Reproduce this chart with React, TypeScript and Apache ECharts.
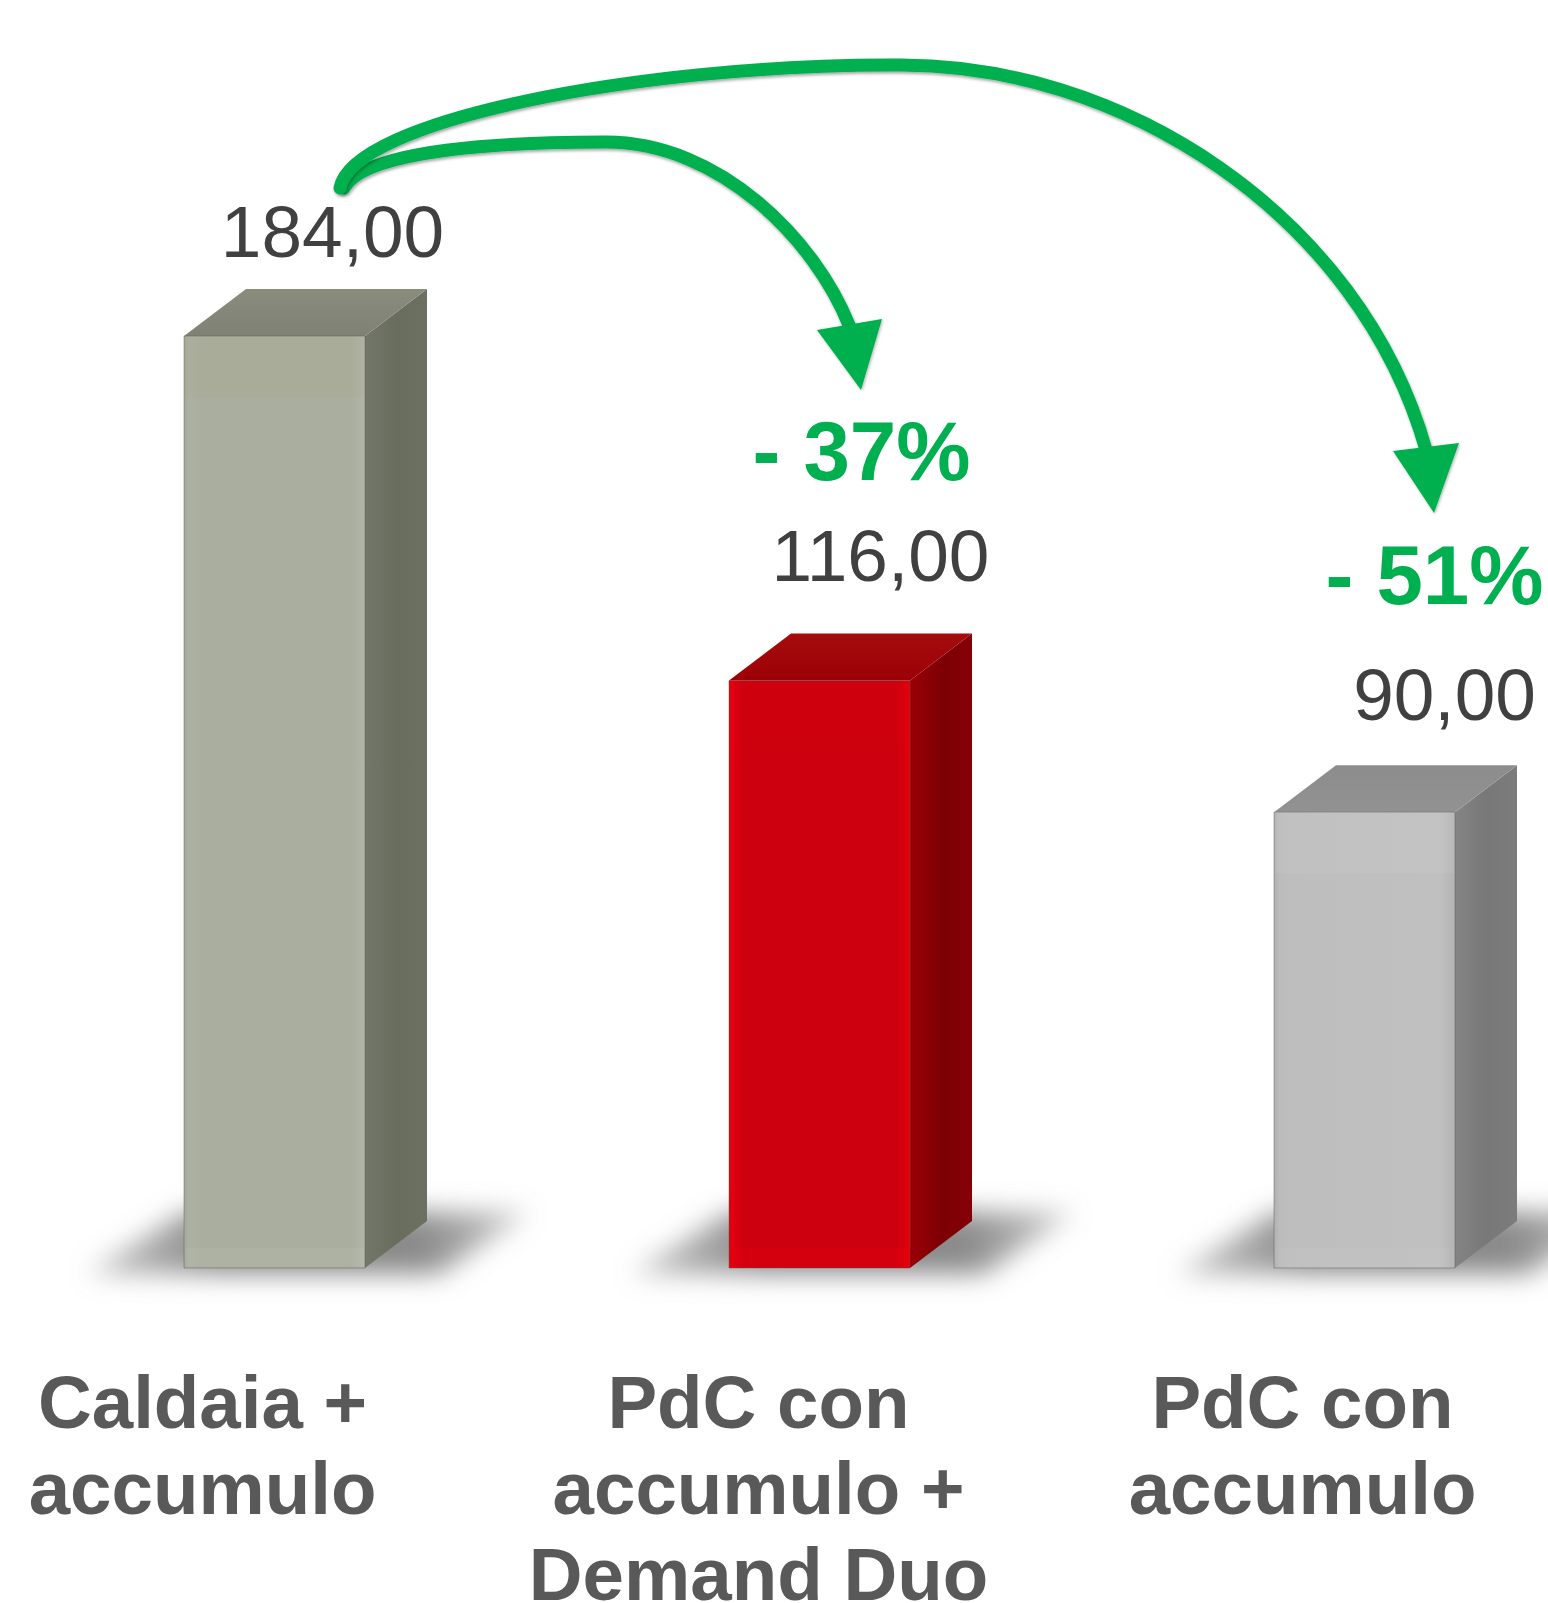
import React, { useEffect, useRef } from "react";
import * as echarts from "echarts";

const categories = ["Caldaia +\naccumulo", "PdC con\naccumulo +\nDemand Duo", "PdC con\naccumulo"];
const values = [184, 116, 90];
const valueLabels = ["184,00", "116,00", "90,00"];
const deltaLabels = ["", "- 37%", "- 51%"];

const categoryShift = [144, 122, 124];
const valueOffsets = [[58, -68], [61, -88], [80, -81]];
const deltaOffsets = [[0, 0], [42, -187], [70, -195]];
const frontStops = [0, 0.03, 0.08, 0.92, 0.97, 1];
const frontFills = [
  ["#a4a99b", "#acb1a3", "#a9ae9f", "#a9ae9f", "#aeb3a5", "#b2b6a8"],
  ["#e2000f", "#dd0010", "#cc000e", "#cc000e", "#d8000c", "#e4000c"],
  ["#b0b0b0", "#bcbcbc", "#bebebe", "#c0c0c0", "#b8b8b8", "#b4b4b4"],
];
const sideFills = [
  ["#73766a", "#696d5e", "#6c7061"],
  ["#9a0006", "#7c0005", "#850006"],
  ["#848484", "#787878", "#7c7c7c"],
];
const topFills = [["#8a8c7e", "#7e8174"], ["#a50c0c", "#9c0007"], ["#8c8c8c", "#929292"]];
const topBands = ["rgba(175,165,125,0.14)", "rgba(230,0,20,0.12)", "rgba(255,255,255,0.06)"];
const baseBands = ["rgba(255,255,255,0.05)", "rgba(240,0,10,0.25)", "rgba(255,255,255,0.04)"];
const BAR_W = 181;
const DX = 62;
const DY = 47;

const shadowSvg =
  `<svg xmlns="http://www.w3.org/2000/svg" width="600" height="160"><defs>` +
  `<linearGradient id="g" x1="0" x2="1" y1="0" y2="0"><stop offset="0" stop-color="#8a8a8a" stop-opacity="0.45"/><stop offset="0.3" stop-color="#8a8a8a"/><stop offset="0.75" stop-color="#8a8a8a"/><stop offset="1" stop-color="#8a8a8a" stop-opacity="0.4"/></linearGradient>` +
  `<filter id="b" x="-20%" y="-60%" width="140%" height="220%"><feGaussianBlur stdDeviation="13"/></filter></defs>` +
  `<polygon points="52,106 405,106 495,44 150,44" fill="url(#g)" filter="url(#b)"/></svg>`;
const shadowUri = "data:image/svg+xml," + encodeURIComponent(shadowSvg);

const innerD = "M344 188C360 158 450 142 606 142C720 142 815 240 849 325";
const outerD = "M340 188C352 120 640 65 890 65C1120 60 1360 215 1426 450";
echarts.graphic.registerShape("arcInner", echarts.graphic.extendPath(innerD, {}));
echarts.graphic.registerShape("arcOuter", echarts.graphic.extendPath(outerD, {}));

const GREEN = "#00b050";
const arcStyle = {
  fill: "none",
  stroke: GREEN,
  lineWidth: 13,
  lineCap: "round",
  shadowBlur: 3,
  shadowColor: "rgba(0,0,0,0.35)",
  shadowOffsetX: 1,
  shadowOffsetY: 2,
};
const headStyle = {
  fill: GREEN,
  shadowBlur: 3,
  shadowColor: "rgba(0,0,0,0.3)",
  shadowOffsetX: 1,
  shadowOffsetY: 1,
};

function grad(x2: number, y2: number, cols: string[], stops?: number[]) {
  return new echarts.graphic.LinearGradient(
    0, 0, x2, y2,
    cols.map((c, i) => ({ offset: stops ? stops[i] : i / (cols.length - 1), color: c }))
  );
}

function renderBar(params: any, api: any) {
  const i = api.value(0);
  const top = api.coord([i, api.value(1)]);
  const base = api.coord([i, 0]);
  const x0 = top[0] - BAR_W / 2;
  const x1 = top[0] + BAR_W / 2;
  const yT = top[1];
  const yB = base[1];
  const children: any[] = [
    {
      type: "image",
      style: { image: shadowUri, x: top[0] - 240, y: yB - 100, width: 600, height: 160 },
    },
    {
      type: "polygon",
      shape: { points: [[x1, yT], [x1 + DX, yT - DY], [x1 + DX, yB - DY], [x1, yB]] },
      style: { fill: grad(1, 0, sideFills[i]) },
    },
    {
      type: "polygon",
      shape: { points: [[x0, yT], [x0 + DX, yT - DY], [x1 + DX, yT - DY], [x1, yT]] },
      style: { fill: grad(0, 1, topFills[i]) },
    },
    {
      type: "rect",
      shape: { x: x0, y: yT, width: BAR_W, height: yB - yT },
      style: { fill: grad(1, 0, frontFills[i], frontStops), stroke: "rgba(90,90,80,0.45)", lineWidth: 1 },
    },
    {
      type: "rect",
      shape: { x: x0 + 1, y: yT + 1, width: BAR_W - 2, height: 60 },
      style: { fill: topBands[i] },
    },
    {
      type: "rect",
      shape: { x: x0 + 1, y: yB - 20, width: BAR_W - 2, height: 19 },
      style: { fill: baseBands[i] },
    },
    {
      type: "text",
      style: {
        text: valueLabels[i],
        x: top[0] + valueOffsets[i][0],
        y: yT + valueOffsets[i][1],
        font: "73px 'Liberation Sans'",
        fill: "#404040",
        align: "center",
        verticalAlign: "bottom",
      },
    },
  ];
  if (deltaLabels[i]) {
    children.push({
      type: "text",
      style: {
        text: deltaLabels[i],
        x: top[0] + deltaOffsets[i][0],
        y: yT + deltaOffsets[i][1],
        font: "bold 83.5px 'Liberation Sans'",
        fill: GREEN,
        align: "center",
        verticalAlign: "bottom",
      },
    });
  }
  return { type: "group", children };
}

export default function App() {
  const ref = useRef<HTMLDivElement>(null);
  useEffect(() => {
    const chart = echarts.init(ref.current!, null, { renderer: "svg" });
    chart.setOption({
      animation: false,
      backgroundColor: "#ffffff",
      grid: { left: 2, top: 255, width: 1635, height: 1013, containLabel: false, outerBoundsMode: "none" },
      xAxis: {
        type: "category",
        data: categories.map((c, i) => ({
          value: c,
          textStyle: { padding: [0, categoryShift[i], 0, 0] },
        })),
        axisLine: { show: false },
        axisTick: { show: false },
        splitLine: { show: false },
        axisLabel: {
          interval: 0,
          hideOverlap: false,
          margin: 91,
          fontFamily: "Liberation Sans",
          fontWeight: "bold",
          fontSize: 74.5,
          lineHeight: 86,
          color: "#595959",
          align: "center",
          verticalAlign: "top",
        },
      },
      yAxis: { type: "value", min: 0, max: 200, show: false, splitLine: { show: false } },
      series: [
        {
          type: "custom",
          renderItem: renderBar,
          clip: false,
          encode: { x: 0, y: 1 },
          data: values.map((v, i) => [i, v]),
        },
      ],
      graphic: {
        elements: [
          { type: "arcInner", z: 10, x: 0, y: 0, style: arcStyle },
          { type: "arcOuter", z: 11, x: 0, y: 0, style: arcStyle },
          { type: "polygon", z: 12, shape: { points: [[817, 330], [882, 319], [861, 390]] }, style: headStyle },
          { type: "polygon", z: 12, shape: { points: [[1393, 451], [1459, 443], [1434, 513]] }, style: headStyle },
        ],
      },
    });
    return () => chart.dispose();
  }, []);
  return <div ref={ref} style={{ position: "absolute", left: 0, top: 0, width: 1548, height: 1603 }} />;
}
